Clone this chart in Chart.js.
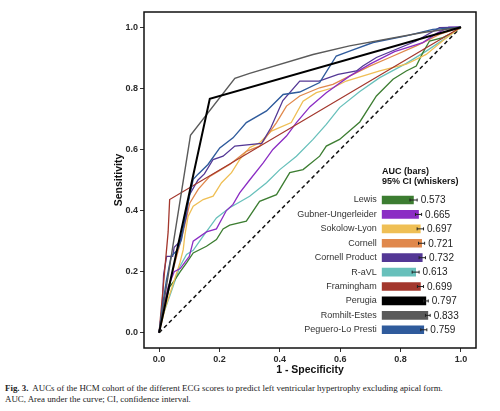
<!DOCTYPE html>
<html>
<head>
<meta charset="utf-8">
<script src="https://cdn.jsdelivr.net/npm/chart.js@4.4.1/dist/chart.umd.min.js"></script>
<style>
body { margin:0; background:#fff; width:500px; height:411px; position:relative; overflow:hidden; }
#roc-wrap { position:absolute; left:0; top:0; width:500px; height:380px; }
#auc-wrap { position:absolute; left:250px; top:160px; width:240px; height:192px; }
#auc-title { position:absolute; left:382px; top:166px; font:bold 9px "Liberation Sans", Arial, sans-serif; line-height:10px; color:#111; }
#caption { position:absolute; left:5px; top:383px; font:8.9px "Liberation Serif", "Times New Roman", serif; line-height:10.5px; color:#222; white-space:nowrap; }
</style>
</head>
<body>
<div id="roc-wrap"><canvas id="roc" width="500" height="380"></canvas></div>
<div id="auc-wrap"><canvas id="auc" width="240" height="192"></canvas></div>
<div id="auc-title">AUC (bars)<br>95% CI (whiskers)</div>
<div id="caption"><b>Fig. 3.</b>&nbsp; AUCs of the HCM cohort of the different ECG scores to predict left ventricular hypertrophy excluding apical form.<br>AUC, Area under the curve; CI, confidence interval.</div>
<script>
// ROC curves, [1 - specificity, sensitivity]
var lewis = [[0,0],[0.01,0.06],[0.035,0.15],[0.05,0.17],[0.07,0.2],[0.091,0.229],[0.113,0.261],[0.157,0.283],[0.19,0.305],[0.212,0.34],[0.234,0.352],[0.289,0.365],[0.333,0.43],[0.389,0.452],[0.433,0.524],[0.477,0.534],[0.532,0.578],[0.554,0.611],[0.598,0.633],[0.665,0.69],[0.72,0.775],[0.775,0.83],[0.819,0.857],[0.852,0.873],[0.874,0.917],[0.896,0.955],[0.94,0.966],[0.974,0.983],[1,1]];
var gubner = [[0,0],[0.01,0.06],[0.03,0.15],[0.05,0.2],[0.07,0.21],[0.1,0.25],[0.113,0.3],[0.157,0.33],[0.19,0.34],[0.223,0.4],[0.245,0.42],[0.267,0.458],[0.3,0.5],[0.345,0.556],[0.377,0.6],[0.422,0.644],[0.455,0.688],[0.5,0.74],[0.554,0.786],[0.631,0.84],[0.7,0.88],[0.78,0.92],[0.874,0.95],[0.92,0.98],[0.96,1],[1,1]];
var sokolow = [[0,0],[0.02,0.08],[0.05,0.17],[0.069,0.229],[0.08,0.272],[0.085,0.316],[0.096,0.381],[0.113,0.414],[0.146,0.436],[0.179,0.447],[0.207,0.491],[0.24,0.524],[0.267,0.567],[0.3,0.606],[0.333,0.622],[0.372,0.66],[0.438,0.688],[0.477,0.758],[0.521,0.786],[0.576,0.802],[0.62,0.824],[0.731,0.857],[0.819,0.879],[0.885,0.911],[0.952,0.966],[1,1]];
var cornell = [[0,0],[0.02,0.1],[0.05,0.22],[0.08,0.33],[0.102,0.425],[0.13,0.47],[0.168,0.512],[0.234,0.551],[0.289,0.594],[0.333,0.611],[0.389,0.688],[0.422,0.742],[0.466,0.775],[0.532,0.802],[0.576,0.813],[0.631,0.84],[0.698,0.873],[0.764,0.901],[0.852,0.939],[0.929,0.977],[1,1]];
var cornellProduct = [[0,0],[0.01,0.08],[0.015,0.19],[0.025,0.25],[0.045,0.25],[0.05,0.28],[0.07,0.3],[0.09,0.38],[0.1,0.45],[0.129,0.5],[0.15,0.52],[0.179,0.567],[0.212,0.578],[0.251,0.611],[0.34,0.62],[0.37,0.67],[0.41,0.76],[0.466,0.824],[0.53,0.824],[0.593,0.846],[0.654,0.857],[0.675,0.873],[0.72,0.901],[0.786,0.928],[0.852,0.955],[0.929,0.999],[1,1]];
var rAvl = [[0,0],[0.01,0.05],[0.035,0.119],[0.069,0.217],[0.091,0.256],[0.113,0.27],[0.146,0.316],[0.19,0.376],[0.234,0.409],[0.3,0.447],[0.356,0.491],[0.4,0.534],[0.455,0.578],[0.51,0.633],[0.554,0.682],[0.598,0.737],[0.665,0.79],[0.731,0.835],[0.819,0.882],[0.885,0.922],[0.952,0.966],[1,1]];
var framingham = [[0,0],[0.03,0.33],[0.035,0.436],[1,1]];
var perugia = [[0,0],[0.168,0.766],[1,1]];
var romhilt = [[0,0],[0.104,0.646],[0.251,0.833],[0.3,0.849],[0.51,0.911],[0.631,0.939],[0.874,0.983],[1,1]];
var peguero = [[0,0],[0.01,0.08],[0.024,0.17],[0.04,0.25],[0.06,0.27],[0.074,0.305],[0.09,0.4],[0.113,0.502],[0.13,0.52],[0.162,0.551],[0.201,0.605],[0.245,0.638],[0.289,0.688],[0.356,0.726],[0.411,0.78],[0.466,0.788],[0.532,0.819],[0.587,0.906],[0.631,0.922],[0.709,0.95],[0.819,0.972],[0.907,0.993],[1,1]];
var chance = [[0,0],[1,1]];

var scoreNames = ['Lewis', 'Gubner-Ungerleider', 'Sokolow-Lyon', 'Cornell', 'Cornell Product', 'R-aVL', 'Framingham', 'Perugia', 'Romhilt-Estes', 'Peguero-Lo Presti'];
var aucValues = [0.573, 0.665, 0.697, 0.721, 0.732, 0.613, 0.699, 0.797, 0.833, 0.759];
var ciLower = [0.51, 0.61, 0.64, 0.665, 0.675, 0.55, 0.645, 0.755, 0.79, 0.705];
var ciUpper = [0.64, 0.72, 0.755, 0.775, 0.79, 0.675, 0.755, 0.84, 0.875, 0.815];
var rocCurves = [lewis, gubner, sokolow, cornell, cornellProduct, rAvl, framingham, perugia, romhilt, peguero];
var axisTicks = [0, 0.2, 0.4, 0.6, 0.8, 1.0];

var scoreColors = ['#3c7d31', '#8b2dc4', '#efbf55', '#e0884c', '#533795', '#68c0bb', '#a3372d', '#000000', '#5a5a5a', '#2f5b9c'];
var lineWidths = [1.3, 1.3, 1.3, 1.3, 1.3, 1.3, 1.3, 2, 1.4, 1.4];
var drawOrder = [8, 5, 7, 6, 4, 9, 3, 0, 1, 2];

Chart.defaults.font.family = '"Liberation Sans", Arial, sans-serif';
Chart.defaults.devicePixelRatio = 1;

function toXY(pts) {
    return pts.map(function (p) { return {x: p[0], y: p[1]}; });
}

var rocSets = rocCurves.map(function (c, i) {
    return {
        label: scoreNames[i],
        data: toXY(c),
        borderColor: scoreColors[i],
        borderWidth: lineWidths[i],
        pointRadius: 0,
        tension: 0,
        fill: false,
        order: drawOrder[i]
    };
});
rocSets.push({
    label: 'chance',
    data: toXY(chance),
    borderColor: '#111',
    borderWidth: 1.5,
    borderDash: [4, 3],
    pointRadius: 0,
    fill: false,
    order: 20
});

// black frame round the panel
var panelBorder = {
    id: 'panelBorder',
    afterDraw: function (chart) {
        var a = chart.chartArea, ctx = chart.ctx;
        ctx.save();
        ctx.strokeStyle = '#111';
        ctx.lineWidth = 1.5;
        ctx.strokeRect(a.left, a.top, a.right - a.left, a.bottom - a.top);
        ctx.restore();
    }
};

function axis(title, fit, titlePad) {
    return {
        type: 'linear',
        min: -0.05,
        max: 1.05,
        afterBuildTicks: function (s) { s.ticks = axisTicks.map(function (v) { return {value: v}; }); },
        afterFit: fit,
        grid: {drawOnChartArea: false, drawTicks: true, tickLength: 4, tickColor: '#333', tickWidth: 1},
        border: {display: false},
        ticks: {
            color: '#2b2b2b',
            font: {size: 9, weight: 'bold'},
            padding: 2,
            callback: function (v) { return v.toFixed(1); }
        },
        title: {display: true, text: title, color: '#111', font: {size: 10.5, weight: 'bold'}, padding: titlePad}
    };
}

new Chart(document.getElementById('roc'), {
    type: 'line',
    data: {datasets: rocSets},
    options: {
        responsive: false,
        animation: false,
        layout: {padding: {left: 106, right: 24, top: 12, bottom: 0}},
        plugins: {legend: {display: false}, tooltip: {enabled: false}},
        scales: {
            x: axis('1 - Specificity', function (s) { s.height = 32; }, {top: 0, bottom: 4}),
            y: axis('Sensitivity', function (s) { s.width = 38; }, {top: 7, bottom: 0})
        }
    },
    plugins: [panelBorder]
});

// whiskers and AUC labels on the inset bars
var whiskers = {
    id: 'whiskers',
    afterDatasetsDraw: function (chart) {
        var ctx = chart.ctx, x = chart.scales.x, y = chart.scales.y;
        ctx.save();
        ctx.strokeStyle = '#222';
        ctx.fillStyle = '#222';
        ctx.lineWidth = 1;
        ctx.font = '10px "Liberation Sans", Arial, sans-serif';
        ctx.textBaseline = 'middle';
        aucValues.forEach(function (v, i) {
            var yy = y.getPixelForValue(i);
            var x0 = x.getPixelForValue(ciLower[i]);
            var x1 = x.getPixelForValue(ciUpper[i]);
            ctx.beginPath();
            ctx.moveTo(x0, yy); ctx.lineTo(x1, yy);
            ctx.moveTo(x0, yy - 1.5); ctx.lineTo(x0, yy + 1.5);
            ctx.moveTo(x1, yy - 1.5); ctx.lineTo(x1, yy + 1.5);
            ctx.stroke();
            ctx.fillText(v.toFixed(3), x1 + 3.5, yy + 0.5);
        });
        ctx.restore();
    }
};

new Chart(document.getElementById('auc'), {
    type: 'bar',
    data: {
        labels: scoreNames,
        datasets: [{
            data: aucValues,
            backgroundColor: scoreColors,
            borderWidth: 0,
            barThickness: 8
        }]
    },
    options: {
        indexAxis: 'y',
        responsive: false,
        animation: false,
        layout: {padding: {left: 0, right: 52.9, top: 32.8, bottom: 15}},
        plugins: {legend: {display: false}, tooltip: {enabled: false}},
        scales: {
            x: {min: 0, max: 1, display: false},
            y: {
                afterFit: function (s) { s.width = 131.7; },
                grid: {display: false, drawTicks: false},
                border: {display: false},
                ticks: {color: '#333', font: {size: 9}, padding: 5}
            }
        }
    },
    plugins: [whiskers]
});
</script>
</body>
</html>
